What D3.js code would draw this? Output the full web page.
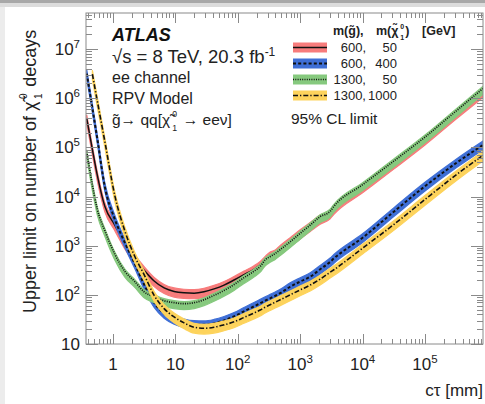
<!DOCTYPE html>
<html lang="en">
<head>
<meta charset="UTF-8">
<title>ATLAS RPV ee channel</title>
<style>
  body { margin: 0; background: #fff; }
  svg { display: block; font-family: "Liberation Sans", Arial, Helvetica, sans-serif; }
</style>
</head>
<body>
<script src="https://d3js.org/d3.v7.min.js"></script>
<script>
// c*tau [mm] points where the limits were read
var ctau = [0.38, 0.468, 0.562, 0.741, 1.07, 1.55, 2.24, 3.16, 4.57, 6.61, 9.55, 13.8, 20.0, 28.8, 41.7,
            60.3, 87.1, 126, 182, 229, 275, 331, 398, 479, 692, 1000, 1450, 2090, 3020, 3470,
            1e4, 3.16e4, 1e5, 3.16e5, 8.51e5];

// upper limit on the number of neutralino decays, one list per mass point
var lim600_50 = [389000, 91200, 26900, 6310, 2630, 1120, 550, 316, 191, 138, 117, 110, 108, 115, 132,
                 158, 200, 257, 331, 407, 513, 631, 692, 851, 1230, 1780, 2510, 3550, 4570, 5620,
                 15500, 46800, 145000, 490000, 1350000];
var lim600_400 = [3160000, 631000, 148000, 15800, 3470, 1150, 427, 162, 69.2, 41.7, 31.6, 26.9, 24.8, 24.5, 26.3,
                  30.2, 36.3, 46.2, 58.2, 67.6, 75.9, 85.1, 95.5, 108, 146, 186, 234, 331, 468, 550,
                  1450, 4900, 16200, 47900, 112000];
var lim1300_50 = [81300, 17400, 5500, 2040, 676, 302, 186, 115, 91.2, 75.9, 69.2, 66.1, 69.2, 79.4, 97.7,
                  123, 162, 224, 302, 380, 513, 603, 692, 832, 1200, 1780, 2630, 3890, 5010, 6310,
                  17400, 52500, 162000, 550000, 1580000];
var lim1300_1000 = [null, 3090000, 871000, 132000, 10500, 2000, 603, 257, 97.7, 52.5, 35.5, 26.9, 21.9, 20.9, 21.9,
                    24.5, 28.2, 34.7, 42.7, 49.0, 56.2, 63.1, 70.8, 79.4, 100, 126, 158, 209, 288, 324,
                    891, 2690, 8710, 27500, 69200];

// band edges relative to the limit (low, high)
var band600_50 = [0.77, 1.18];
var band600_400 = [0.8, 1.2];
var band1300_50 = [0.76, 1.1];
var band1300_1000 = [0.76, 1.2];

var massGluino = ["600,", "600,", "1300,", "1300,"];
var massNeutralino = ["50", "400", "50", "1000"];

var xTickLabels = ["1", "10", "10^2", "10^3", "10^4", "10^5"];
var yTickLabels = ["10", "10^2", "10^3", "10^4", "10^5", "10^6", "10^7"];

var W = 485, H = 404;
var frameL = 86, frameR = 483, frameT = 13, frameB = 344;

var svg = d3.select("body").append("svg")
    .attr("width", W)
    .attr("height", H);

// grey screenshot edges
svg.append("rect").attr("x", 0).attr("y", 0).attr("width", 5).attr("height", H).attr("fill", "#ececec");
svg.append("rect").attr("x", 0).attr("y", 0).attr("width", W).attr("height", 3).attr("fill", "#a8a8a8");
svg.append("rect").attr("x", 0).attr("y", 3).attr("width", W).attr("height", 4).attr("fill", "#dcdcdc");

var x = d3.scaleLog().domain([0.37, 8.5e5]).range([frameL, frameR]);
var y = d3.scaleLog().domain([10, 5.4e7]).range([frameB, frameT]);

svg.append("clipPath").attr("id", "plot")
    .append("rect")
    .attr("x", frameL).attr("y", frameT)
    .attr("width", frameR - frameL).attr("height", frameB - frameT);

var series = [
    {vals: lim600_50, band: band600_50, fill: "#f77c7c", dash: null, width: 1.5},
    {vals: lim600_400, band: band600_400, fill: "#3f6fd6", dash: "3,2.2", width: 2},
    {vals: lim1300_50, band: band1300_50, fill: "#86c97e", dash: "1,1.3", width: 1.7},
    {vals: lim1300_1000, band: band1300_1000, fill: "#fdd35c", dash: "5,2,1.3,2", width: 1.6}
];

var g = svg.append("g").attr("clip-path", "url(#plot)");

series.forEach(function(s) {
    var pts = ctau.map(function(c, i) {
        return {c: c, v: s.vals[i]};
    }).filter(function(d) { return d.v != null; });

    var area = d3.area()
        .x(function(d) { return x(d.c); })
        .y0(function(d) { return y(d.v * s.band[0]); })
        .y1(function(d) { return y(d.v * s.band[1]); })
        .curve(d3.curveMonotoneX);
    var line = d3.line()
        .x(function(d) { return x(d.c); })
        .y(function(d) { return y(d.v); })
        .curve(d3.curveMonotoneX);

    g.append("path").datum(pts)
        .attr("d", area)
        .attr("fill", s.fill)
        .attr("stroke", s.fill)
        .attr("stroke-width", 1.2);
    g.append("path").datum(pts)
        .attr("d", line)
        .attr("fill", "none")
        .attr("stroke", "#111")
        .attr("stroke-width", s.width)
        .attr("stroke-dasharray", s.dash);
});

// frame and ticks
var axisColor = "#8a8a8a";
svg.append("rect")
    .attr("x", frameL).attr("y", frameT)
    .attr("width", frameR - frameL).attr("height", frameB - frameT)
    .attr("fill", "none")
    .attr("stroke", axisColor)
    .attr("stroke-width", 1);

function isMajor(v) {
    var l = Math.log10(v);
    return Math.abs(l - Math.round(l)) < 1e-6;
}

var ticks = svg.append("g").attr("stroke", axisColor).attr("stroke-width", 1);
x.ticks().forEach(function(v) {
    var px = Math.round(x(v)) + 0.5;
    var len = isMajor(v) ? 10 : 5;
    ticks.append("line").attr("x1", px).attr("x2", px).attr("y1", frameB).attr("y2", frameB - len);
    ticks.append("line").attr("x1", px).attr("x2", px).attr("y1", frameT).attr("y2", frameT + len);
});
y.ticks().forEach(function(v) {
    var py = Math.round(y(v)) + 0.5;
    var len = isMajor(v) ? 12 : 6;
    ticks.append("line").attr("x1", frameL).attr("x2", frameL + len).attr("y1", py).attr("y2", py);
    ticks.append("line").attr("x1", frameR).attr("x2", frameR - len).attr("y1", py).attr("y2", py);
});

function powLabel(sel, label) {
    var parts = label.split("^");
    sel.append("tspan").text(parts[0]);
    if (parts[1]) {
        sel.append("tspan").attr("dy", -7).attr("font-size", 11.5).text(parts[1]);
    }
}

xTickLabels.forEach(function(lab, i) {
    var t = svg.append("text")
        .attr("x", x(Math.pow(10, i)))
        .attr("y", 370)
        .attr("text-anchor", "middle")
        .attr("font-size", 17)
        .attr("fill", "#222");
    powLabel(t, lab);
});
yTickLabels.forEach(function(lab, i) {
    var t = svg.append("text")
        .attr("x", 80)
        .attr("y", y(Math.pow(10, i + 1)) + 6)
        .attr("text-anchor", "end")
        .attr("font-size", 17)
        .attr("fill", "#222");
    powLabel(t, lab);
});

svg.append("text")
    .attr("x", 483).attr("y", 396)
    .attr("text-anchor", "end")
    .attr("font-size", 17)
    .attr("fill", "#222")
    .text("c\u03c4 [mm]");

// chi~ with stacked 0 / 1
function chi(t, sz) {
    t.append("tspan").text("\u03c7\u0303");
    t.append("tspan").attr("dx", sz * 0.14).attr("dy", -0.5 * sz).attr("font-size", sz * 0.56).text("0");
    t.append("tspan").attr("dx", -sz * 0.31).attr("dy", 0.86 * sz).attr("font-size", sz * 0.56).text("1");
    t.append("tspan").attr("dy", -0.36 * sz).text("\u200a");
}

var ylab = svg.append("text")
    .attr("transform", "translate(36,313) rotate(-90)")
    .attr("font-size", 18)
    .attr("fill", "#222");
ylab.append("tspan").text("Upper limit on number of ");
chi(ylab, 18);
ylab.append("tspan").text(" decays");

// ATLAS labels
svg.append("text").attr("x", 112).attr("y", 41)
    .attr("font-size", 18).attr("font-weight", "bold").attr("font-style", "italic")
    .attr("fill", "#111").text("ATLAS");
var lumi = svg.append("text").attr("x", 112).attr("y", 63).attr("font-size", 18.5).attr("fill", "#222");
lumi.append("tspan").text("\u221as = 8 TeV, 20.3 fb");
lumi.append("tspan").attr("dy", -7).attr("font-size", 12).text("-1");
svg.append("text").attr("x", 112).attr("y", 83).attr("font-size", 16).attr("fill", "#222").text("ee channel");
svg.append("text").attr("x", 112).attr("y", 104).attr("font-size", 16).attr("fill", "#222").text("RPV Model");
var decay = svg.append("text").attr("x", 112).attr("y", 125).attr("font-size", 15.5).attr("fill", "#222");
decay.append("tspan").text("g\u0303\u2192 qq[");
chi(decay, 15.5);
decay.append("tspan").text(" \u2192 ee\u03bd]");

// legend
var head = svg.append("g").attr("font-size", 12.5).attr("font-weight", "bold").attr("fill", "#222");
head.append("text").attr("x", 333).attr("y", 35).text("m(g\u0303),");
var h2 = head.append("text").attr("x", 376).attr("y", 35);
h2.append("tspan").text("m(");
chi(h2, 12.5);
h2.append("tspan").text(")");
head.append("text").attr("x", 422).attr("y", 35).text("[GeV]");

series.forEach(function(s, i) {
    var cy = 47.5 + i * 16;
    svg.append("rect")
        .attr("x", 293).attr("y", cy - 5)
        .attr("width", 34).attr("height", 10)
        .attr("fill", s.fill);
    svg.append("line")
        .attr("x1", 293).attr("x2", 327)
        .attr("y1", cy).attr("y2", cy)
        .attr("stroke", "#111")
        .attr("stroke-width", s.width)
        .attr("stroke-dasharray", s.dash);
    svg.append("text").attr("x", 366).attr("y", cy + 4.5)
        .attr("text-anchor", "end").attr("font-size", 13).attr("fill", "#222")
        .text(massGluino[i]);
    svg.append("text").attr("x", 397).attr("y", cy + 4.5)
        .attr("text-anchor", "end").attr("font-size", 13).attr("fill", "#222")
        .text(massNeutralino[i]);
});

svg.append("text").attr("x", 291).attr("y", 124)
    .attr("font-size", 15.5).attr("fill", "#222").text("95% CL limit");
</script>
</body>
</html>
